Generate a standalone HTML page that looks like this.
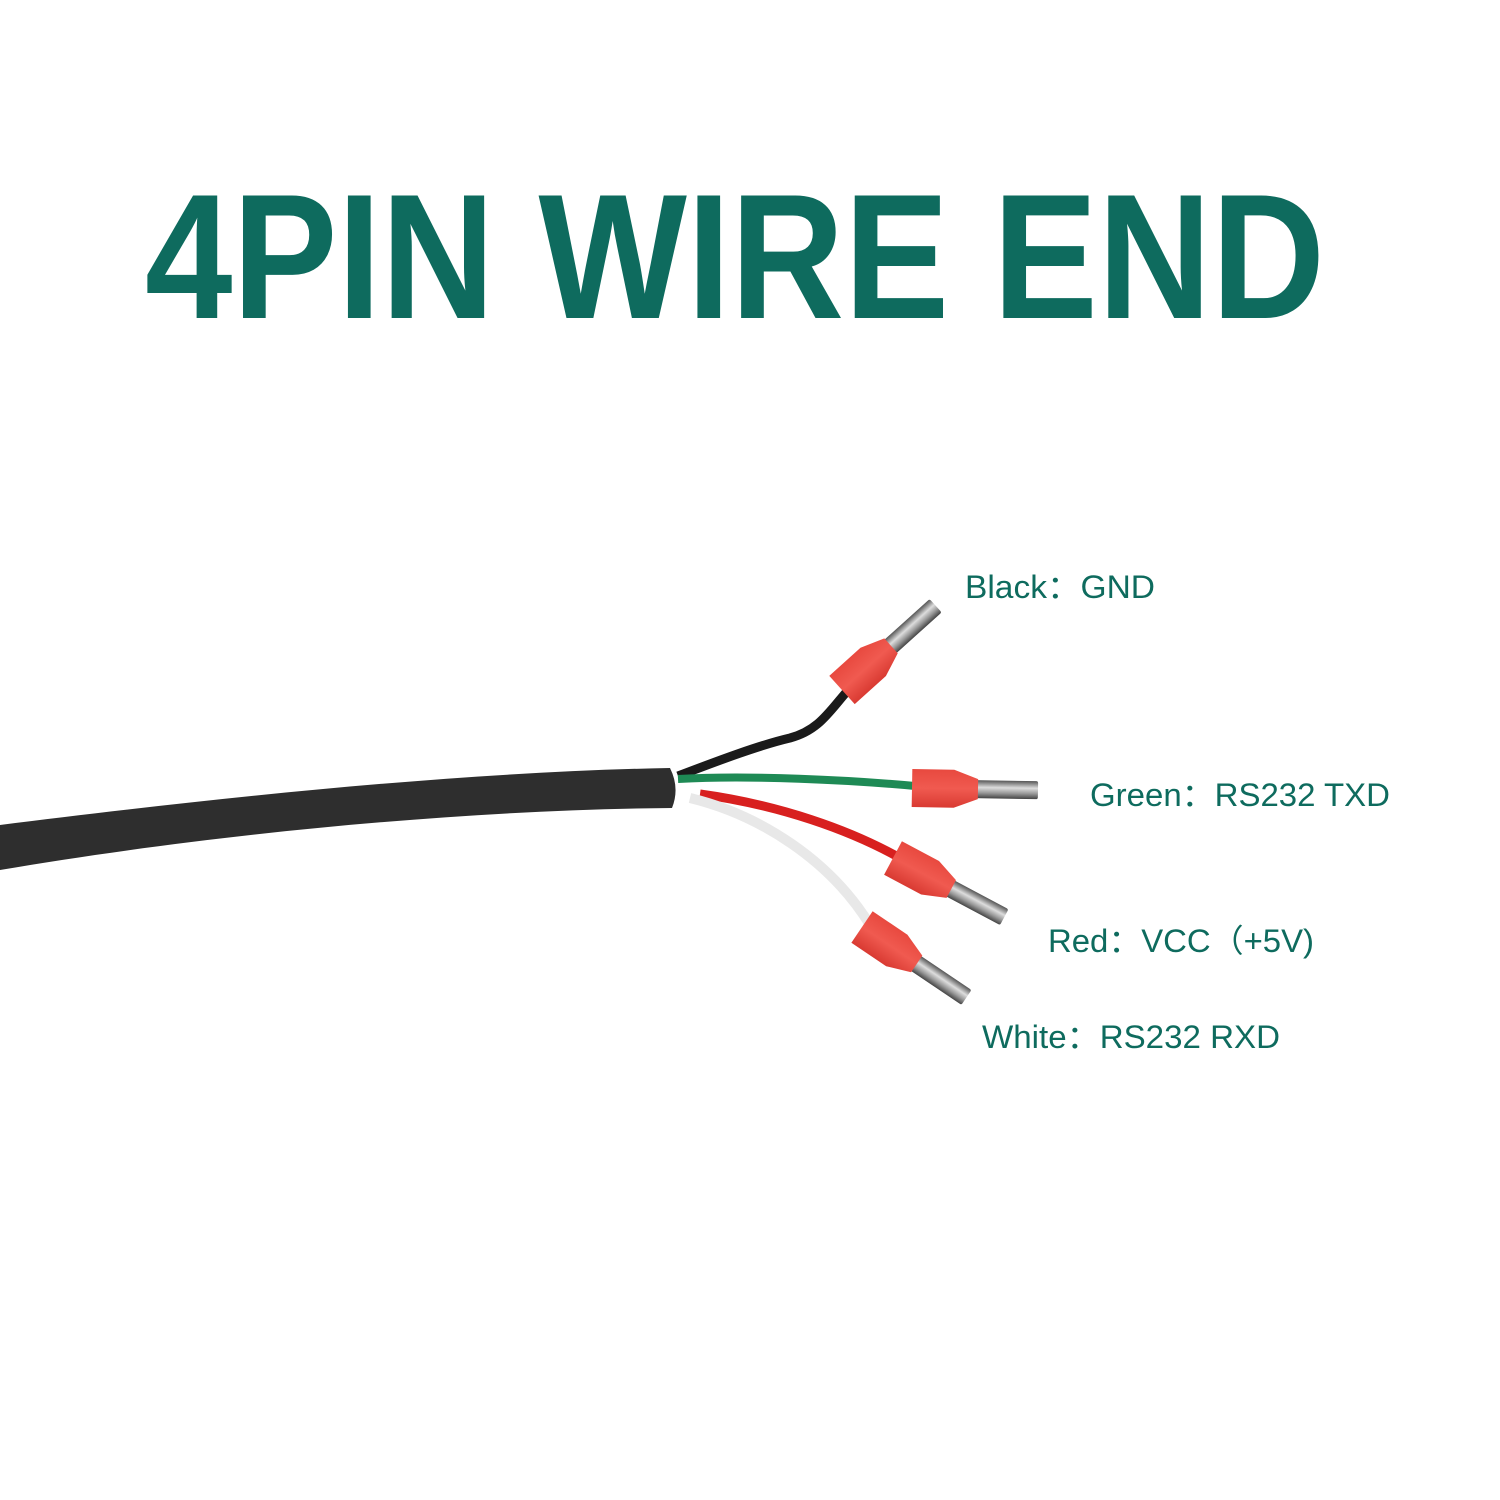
<!DOCTYPE html>
<html><head><style>
html,body{margin:0;padding:0;background:#fff;}
svg{display:block;}
</style></head><body>
<svg width="1500" height="1500" viewBox="0 0 1500 1500" xmlns="http://www.w3.org/2000/svg">
<defs>
<linearGradient id="pin" x1="0" y1="0" x2="0" y2="1">
<stop offset="0" stop-color="#555"/><stop offset="0.4" stop-color="#ddd"/><stop offset="0.7" stop-color="#999"/><stop offset="1" stop-color="#444"/>
</linearGradient>
<linearGradient id="fer" x1="0" y1="0" x2="0" y2="1">
<stop offset="0" stop-color="#e8493f"/><stop offset="0.5" stop-color="#f05a50"/><stop offset="1" stop-color="#d93a32"/>
</linearGradient>
<g id="ferrule">
<rect x="60" y="-9" width="66" height="18" fill="url(#pin)" rx="2"/>
<path d="M0,-19 L42,-19 L66,-10 L66,10 L42,19 L0,19 Z" fill="url(#fer)"/>
</g>
</defs>
<text x="145" y="318" font-family="Liberation Sans, sans-serif" font-weight="bold" font-size="178" fill="#0e6b5e" textLength="1180" lengthAdjust="spacingAndGlyphs">4PIN WIRE END</text>
<!-- cable -->
<path d="M0,825 C200,800 450,772 670,768 Q680,788 672,808 C450,810 200,836 0,870 Z" fill="#2e2e2e"/>
<!-- wires -->
<path d="M678,776 C720,760 760,745 790,738 C820,730 830,710 850,688" stroke="#1a1a1a" stroke-width="9" fill="none"/>
<path d="M678,779 C750,775 850,780 915,786" stroke="#1e8a55" stroke-width="8" fill="none"/>
<path d="M700,794 C780,805 850,830 900,858" stroke="#d8201f" stroke-width="9" fill="none"/>
<path d="M690,798 C760,815 830,860 870,925" stroke="#e8e8e8" stroke-width="10" fill="none"/>
<!-- ferrules -->
<use href="#ferrule" transform="translate(842,690) rotate(-42)"/>
<use href="#ferrule" transform="translate(912,788) rotate(1)"/>
<use href="#ferrule" transform="translate(893,858) rotate(28)"/>
<use href="#ferrule" transform="translate(862,927) rotate(34)"/>
<!-- labels -->
<g font-family="Liberation Sans, 'Noto Sans CJK SC', sans-serif" font-size="32" fill="#0e6b5e">
<text x="965" y="598" textLength="190" lengthAdjust="spacingAndGlyphs">Black：GND</text>
<text x="1090" y="806" textLength="300" lengthAdjust="spacingAndGlyphs">Green：RS232 TXD</text>
<text x="1048" y="952" textLength="266" lengthAdjust="spacingAndGlyphs">Red：VCC（+5V)</text>
<text x="982" y="1048" textLength="298" lengthAdjust="spacingAndGlyphs">White：RS232 RXD</text>
</g>
</svg>
</body></html>
